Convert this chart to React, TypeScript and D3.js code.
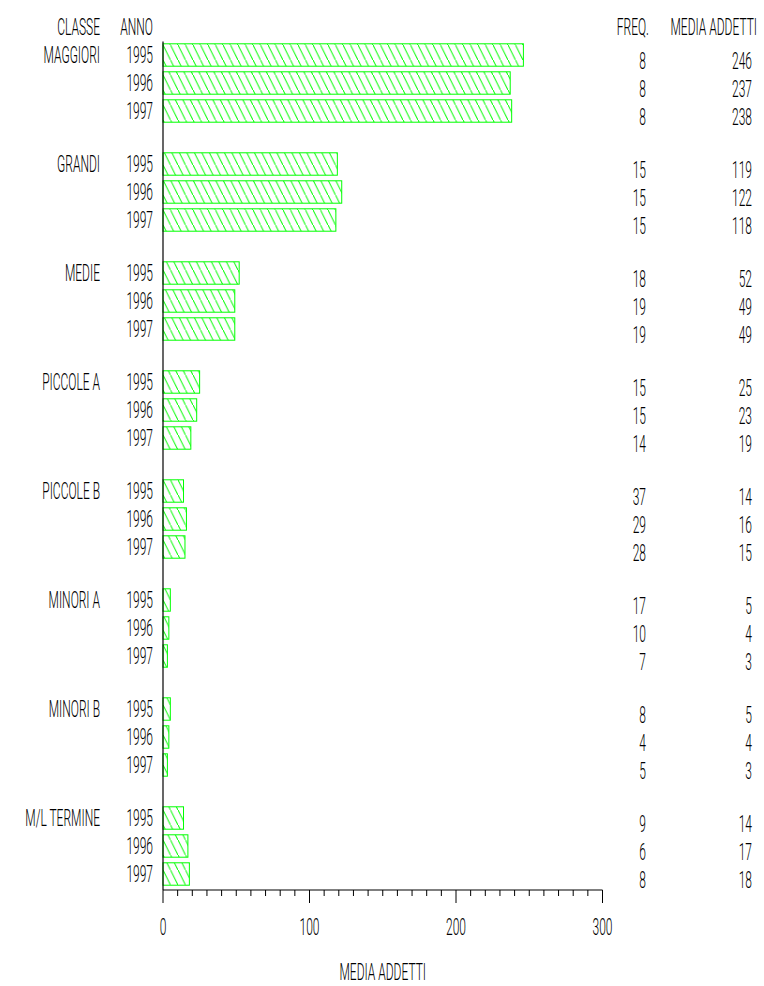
import React from "react";
import * as d3 from "d3";

const classi = ["MAGGIORI", "GRANDI", "MEDIE", "PICCOLE A", "PICCOLE B", "MINORI A", "MINORI B", "M/L TERMINE"];
const anni = ["1995", "1996", "1997"];
const freq = [
  [8, 8, 8],
  [15, 15, 15],
  [18, 19, 19],
  [15, 15, 14],
  [37, 29, 28],
  [17, 10, 7],
  [8, 4, 5],
  [9, 6, 8],
];
const mediaAddetti = [
  [246, 237, 238],
  [119, 122, 118],
  [52, 49, 49],
  [25, 23, 19],
  [14, 16, 15],
  [5, 4, 3],
  [5, 4, 3],
  [14, 17, 18],
];
const majorTicks = [0, 100, 200, 300];

const W = 764;
const H = 986;
const GREEN = "#00ff00";
const FS = 24;
const SX = 0.5;

function T({ x, y, anchor = "end", children }: { x: number; y: number; anchor?: string; children: React.ReactNode }) {
  return (
    <text
      transform={`translate(${x},${y}) scale(${SX},1)`}
      fontFamily="Roboto, 'Liberation Sans', Arial, sans-serif"
      fontWeight={300}
      fontSize={FS}
      textAnchor={anchor}
      fill="#000"
    >
      {children}
    </text>
  );
}

export default function App() {
  const x = d3.scaleLinear().domain([0, 300]).range([163, 602.5]);
  const yGroup = d3.scaleBand<string>().domain(classi).range([41, 888]).paddingInner(25 / 109).paddingOuter(0);
  const yYear = d3.scaleBand<string>().domain(anni).range([0, yGroup.bandwidth()]).paddingInner(0.2).paddingOuter(0.1);
  const axisY = 890;
  const minorTicks = d3.range(0, 301, 10);

  return (
    <svg width={W} height={H} style={{ position: "absolute", left: 0, top: 0, background: "#fff" }}>
      <defs>
        <pattern id="hatch" patternUnits="userSpaceOnUse" width={7.5} height={15} x={163} y={0}>
          <line x1={-1} y1={-2} x2={8.5} y2={17} stroke={GREEN} strokeWidth={1} />
        </pattern>
      </defs>
      <rect x={0} y={0} width={W} height={H} fill="#fff" />

      {/* headers */}
      <T x={100} y={35}>CLASSE</T>
      <T x={153} y={35}>ANNO</T>
      <T x={649} y={35}>FREQ.</T>
      <T x={757} y={35}>MEDIA ADDETTI</T>

      {classi.map((c, gi) => {
        const g0 = yGroup(c)!;
        return (
          <g key={c}>
            <T x={100} y={g0 + yYear(anni[0])! + yYear.bandwidth() / 2 + 8}>{c}</T>
            {anni.map((a, ai) => {
              const yb = g0 + yYear(a)!;
              const cy = yb + yYear.bandwidth() / 2;
              const v = mediaAddetti[gi][ai];
              return (
                <g key={a}>
                  <rect
                    x={x(0)}
                    y={yb}
                    width={x(v) - x(0)}
                    height={yYear.bandwidth()}
                    fill="url(#hatch)"
                    stroke={GREEN}
                    strokeWidth={1}
                  />
                  <T x={153} y={cy + 8}>{a}</T>
                  <T x={646} y={cy + 14}>{String(freq[gi][ai])}</T>
                  <T x={752} y={cy + 14}>{String(v)}</T>
                </g>
              );
            })}
          </g>
        );
      })}

      {/* axes */}
      <line x1={163} y1={41.5} x2={163} y2={axisY} stroke="#000" strokeWidth={1.2} />
      <line x1={x(0)} y1={axisY} x2={x(300)} y2={axisY} stroke="#000" strokeWidth={1.2} />
      {minorTicks.map((t) => {
        const major = majorTicks.includes(t);
        return (
          <line key={t} x1={x(t)} y1={axisY} x2={x(t)} y2={axisY + (major ? 13 : 6)} stroke="#000" strokeWidth={1} />
        );
      })}
      {majorTicks.map((t) => (
        <T key={t} x={x(t)} y={935} anchor="middle">{String(t)}</T>
      ))}
      <T x={(x(0) + x(300)) / 2} y={980} anchor="middle">MEDIA ADDETTI</T>
    </svg>
  );
}
